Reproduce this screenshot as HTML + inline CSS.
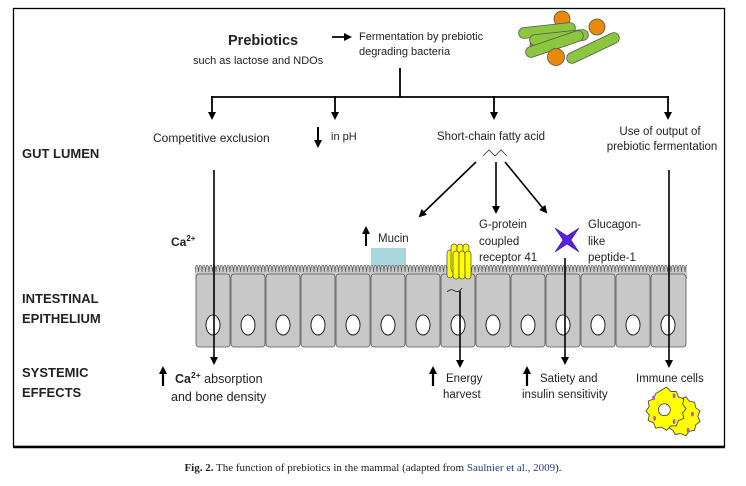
<!DOCTYPE html>
<html><head><meta charset="utf-8"><style>
body{margin:0;background:#fff;}
svg{display:block;font-family:"Liberation Sans",Arial,sans-serif;}
</style></head><body>
<svg width="746" height="486" viewBox="0 0 746 486">
<defs>
<marker id="ah" markerWidth="8" markerHeight="8" refX="6" refY="4" orient="auto" markerUnits="userSpaceOnUse"><path d="M0,0 L8,4 L0,8 z" fill="#000"/></marker>
<pattern id="vil" x="195" y="265" width="3.5" height="12" patternUnits="userSpaceOnUse">
<path d="M0,12 V7 Q0.3,0 1.75,0 Q3.2,0 3.5,7 V12 Z" fill="#c8c8c8"/>
<path d="M0,7 Q0.3,0 1.75,0 Q3.2,0 3.5,7" fill="none" stroke="#555" stroke-width="0.7"/>
</pattern>
</defs>
<rect x="13.5" y="8.5" width="711" height="438" fill="#fff" stroke="#000" stroke-width="1.3"/>
<line x1="13" y1="447" x2="725" y2="447" stroke="#000" stroke-width="2.5"/>

<text x="228" y="45" font-size="14.5" font-weight="bold" fill="#222">Prebiotics</text>
<text x="193" y="64" font-size="11" fill="#222">such as lactose and NDOs</text>
<line x1="332" y1="37" x2="350" y2="37" stroke="#000" stroke-width="1.8" marker-end="url(#ah)"/>
<text x="359" y="40" font-size="11" fill="#222">Fermentation by prebiotic</text>
<text x="359" y="55" font-size="11" fill="#222">degrading bacteria</text>

<!-- bacteria -->
<g stroke-linecap="round">
<circle cx="562" cy="19" r="8" fill="#e8890c" stroke="#555" stroke-width="0.8"/>
<circle cx="597" cy="27" r="8" fill="#e8890c" stroke="#555" stroke-width="0.8"/>
<circle cx="538" cy="45" r="8" fill="#e8890c" stroke="#555" stroke-width="0.8"/>
<line x1="524" y1="33" x2="570" y2="28" stroke="#555" stroke-width="11.5"/>
<line x1="524" y1="33" x2="570" y2="28" stroke="#8cc63f" stroke-width="10"/>
<line x1="535" y1="40" x2="583" y2="35" stroke="#555" stroke-width="11.5"/>
<line x1="535" y1="40" x2="583" y2="35" stroke="#8cc63f" stroke-width="10"/>
<line x1="531" y1="52" x2="578" y2="36" stroke="#555" stroke-width="11.5"/>
<line x1="531" y1="52" x2="578" y2="36" stroke="#8cc63f" stroke-width="10"/>
<circle cx="556" cy="57" r="8.5" fill="#e8890c" stroke="#555" stroke-width="0.8"/>
<line x1="572" y1="58" x2="614" y2="38" stroke="#555" stroke-width="11.5"/>
<line x1="572" y1="58" x2="614" y2="38" stroke="#8cc63f" stroke-width="10"/>
</g>

<line x1="400" y1="68" x2="400" y2="97" stroke="#000" stroke-width="1.8"/>
<line x1="211" y1="97" x2="669" y2="97" stroke="#000" stroke-width="1.8"/>
<g stroke="#000" stroke-width="1.8" marker-end="url(#ah)">
<line x1="212" y1="96" x2="212" y2="118"/>
<line x1="335" y1="96" x2="335" y2="118"/>
<line x1="494" y1="96" x2="494" y2="118"/>
<line x1="668" y1="96" x2="668" y2="118"/>
</g>

<text x="153" y="142" font-size="12" fill="#222">Competitive exclusion</text>
<line x1="318" y1="127" x2="318" y2="146" stroke="#000" stroke-width="2" marker-end="url(#ah)"/>
<text x="331" y="140" font-size="11" fill="#222">in pH</text>
<text x="437" y="140" font-size="11.5" fill="#222">Short-chain fatty acid</text>
<polyline points="483,156 489,150 495,156 501,150 507,156" fill="none" stroke="#333" stroke-width="0.8"/>
<text x="660" y="135" font-size="11.5" fill="#222" text-anchor="middle">Use of output of</text>
<text x="662" y="150" font-size="11.5" fill="#222" text-anchor="middle">prebiotic fermentation</text>

<text x="22" y="158" font-size="13" font-weight="bold" fill="#222">GUT LUMEN</text>
<text x="22" y="303" font-size="13" font-weight="bold" fill="#222">INTESTINAL</text>
<text x="22" y="323" font-size="13" font-weight="bold" fill="#222">EPITHELIUM</text>
<text x="22" y="377" font-size="13" font-weight="bold" fill="#222">SYSTEMIC</text>
<text x="22" y="397" font-size="13" font-weight="bold" fill="#222">EFFECTS</text>

<g stroke="#000" stroke-width="1.6" marker-end="url(#ah)">
<line x1="476" y1="162" x2="420" y2="216"/>
<line x1="496" y1="162" x2="496" y2="212"/>
<line x1="505" y1="162" x2="546" y2="212"/>
</g>

<text x="479" y="228" font-size="11.5" fill="#222">G-protein</text>
<text x="479" y="245" font-size="11.5" fill="#222">coupled</text>
<text x="479" y="261" font-size="11.5" fill="#222">receptor 41</text>
<text x="588" y="228" font-size="11.5" fill="#222">Glucagon-</text>
<text x="588" y="245" font-size="11.5" fill="#222">like</text>
<text x="588" y="261" font-size="11.5" fill="#222">peptide-1</text>
<line x1="366" y1="246" x2="366" y2="228" stroke="#000" stroke-width="2" marker-end="url(#ah)"/>
<text x="378" y="242" font-size="11.5" fill="#222">Mucin</text>
<text x="171" y="246" font-size="12" font-weight="bold" fill="#222">Ca<tspan font-size="8" dy="-5">2+</tspan></text>

<rect x="371" y="248" width="35" height="20" fill="#a9d6dc"/>

<!-- epithelium -->
<rect x="195" y="265" width="492" height="13" fill="url(#vil)"/>
<g fill="#c8c8c8" stroke="#555" stroke-width="0.8">
<rect x="196" y="274" width="34" height="73" rx="3"/><rect x="231" y="274" width="34" height="73" rx="3"/><rect x="266" y="274" width="34" height="73" rx="3"/><rect x="301" y="274" width="34" height="73" rx="3"/><rect x="336" y="274" width="34" height="73" rx="3"/><rect x="371" y="274" width="34" height="73" rx="3"/><rect x="406" y="274" width="34" height="73" rx="3"/><rect x="441" y="274" width="34" height="73" rx="3"/><rect x="476" y="274" width="34" height="73" rx="3"/><rect x="511" y="274" width="34" height="73" rx="3"/><rect x="546" y="274" width="34" height="73" rx="3"/><rect x="581" y="274" width="34" height="73" rx="3"/><rect x="616" y="274" width="34" height="73" rx="3"/><rect x="651" y="274" width="35" height="73" rx="3"/>
</g>
<g fill="#fff" stroke="#222" stroke-width="1">
<ellipse cx="213" cy="325" rx="7" ry="10"/><ellipse cx="248" cy="325" rx="7" ry="10"/><ellipse cx="283" cy="325" rx="7" ry="10"/><ellipse cx="318" cy="325" rx="7" ry="10"/><ellipse cx="353" cy="325" rx="7" ry="10"/><ellipse cx="388" cy="325" rx="7" ry="10"/><ellipse cx="423" cy="325" rx="7" ry="10"/><ellipse cx="458" cy="325" rx="7" ry="10"/><ellipse cx="493" cy="325" rx="7" ry="10"/><ellipse cx="528" cy="325" rx="7" ry="10"/><ellipse cx="563" cy="325" rx="7" ry="10"/><ellipse cx="598" cy="325" rx="7" ry="10"/><ellipse cx="633" cy="325" rx="7" ry="10"/><ellipse cx="668" cy="325" rx="7" ry="10"/>
</g>

<!-- receptor -->
<g fill="#ffff00" stroke="#555" stroke-width="0.8">
<rect x="447" y="250" width="6" height="28" rx="3"/>
<rect x="451" y="244" width="6" height="28" rx="3"/><rect x="457" y="244" width="6" height="28" rx="3"/><rect x="463" y="244" width="6" height="28" rx="3"/>
<rect x="453" y="251" width="6" height="28" rx="3"/><rect x="459" y="251" width="6" height="28" rx="3"/><rect x="465" y="251" width="6" height="28" rx="3"/>
</g>
<path d="M447,292 q4,-4 8,-1 q4,2 7,-3" fill="none" stroke="#222" stroke-width="0.8"/>
<!-- star -->
<path d="M555,228 L567,236 L579,228 L571,240 L579,252 L567,244 L555,252 L563,240 z" fill="#5a1fe0" stroke="#3a10a0" stroke-width="0.6"/>

<!-- long arrows -->
<g stroke="#000" stroke-width="1.6" marker-end="url(#ah)">
<line x1="214" y1="170" x2="214" y2="363"/>
<line x1="460" y1="291" x2="460" y2="366"/>
<line x1="565" y1="258" x2="565" y2="363"/>
<line x1="669" y1="170" x2="669" y2="366"/>
</g>

<line x1="163" y1="386" x2="163" y2="368" stroke="#000" stroke-width="2.2" marker-end="url(#ah)"/>
<text x="175" y="383" font-size="12.5" fill="#222"><tspan font-weight="bold">Ca<tspan font-size="8.5" dy="-5">2+</tspan></tspan><tspan dy="5"> absorption</tspan></text>
<text x="171" y="401" font-size="12.5" fill="#222">and bone density</text>
<line x1="433" y1="386" x2="433" y2="368" stroke="#000" stroke-width="2.2" marker-end="url(#ah)"/>
<text x="446" y="382" font-size="11.5" fill="#222">Energy</text>
<text x="443" y="398" font-size="11.5" fill="#222">harvest</text>
<line x1="527" y1="386" x2="527" y2="368" stroke="#000" stroke-width="2.2" marker-end="url(#ah)"/>
<text x="540" y="382" font-size="11.5" fill="#222">Satiety and</text>
<text x="522" y="398" font-size="11.5" fill="#222">insulin sensitivity</text>
<text x="636" y="382" font-size="11.5" fill="#222">Immune cells</text>

<!-- immune cells -->
<g transform="translate(673,413) scale(1.08) translate(-671,-411)">
<g fill="#ffff00" stroke="#444" stroke-width="0.8">
<path d="M678,398 l5,-2 3,4 5,1 1,5 4,3 -2,5 2,5 -4,3 -1,5 -5,1 -3,4 -5,-2 -5,1 -2,-4 -5,-3 1,-5 -3,-4 3,-4 0,-5 5,-2 2,-4 z"/>
<path d="M660,390 l5,-3 4,4 5,0 2,5 5,2 -1,5 3,4 -3,4 1,5 -5,2 -2,5 -5,0 -4,4 -5,-3 -5,1 -2,-5 -5,-2 1,-5 -3,-4 3,-4 -1,-5 5,-2 2,-5 z"/>
</g>
<circle cx="663" cy="408" r="5.5" fill="#fff" stroke="#444" stroke-width="0.8"/>
<g fill="#b05ad0"><ellipse cx="653" cy="397" rx="1.3" ry="2.2"/><ellipse cx="672" cy="395" rx="1.3" ry="2.2"/><ellipse cx="654" cy="416" rx="1.3" ry="2.2"/><ellipse cx="672" cy="419" rx="1.3" ry="2.2"/><ellipse cx="689" cy="412" rx="1.3" ry="2.2"/><ellipse cx="685" cy="427" rx="1.3" ry="2.2"/></g>
</g>

<text x="373" y="471" font-size="11" text-anchor="middle" font-family="'Liberation Serif',serif" fill="#222"><tspan font-weight="bold">Fig. 2.</tspan> The function of prebiotics in the mammal (adapted from <tspan fill="#2a3a8a">Saulnier et al., 2009</tspan>).</text>
</svg>
</body></html>
